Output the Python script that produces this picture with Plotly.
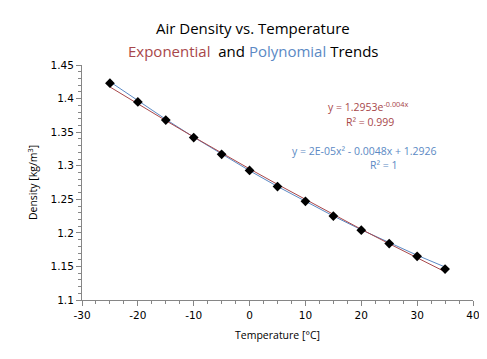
import plotly.graph_objects as go

temps = [-25, -20, -15, -10, -5, 0, 5, 10, 15, 20, 25, 30, 35]
density = [1.423, 1.395, 1.368, 1.342, 1.317, 1.293, 1.269, 1.247, 1.225, 1.204, 1.184, 1.165, 1.146]
exp_trend = [1.4173, 1.3920, 1.3672, 1.3428, 1.3188, 1.2953, 1.2722, 1.2495, 1.2272, 1.2053, 1.1838, 1.1627, 1.1420]
poly_trend = [1.4251, 1.3966, 1.3691, 1.3426, 1.3171, 1.2926, 1.2691, 1.2466, 1.2251, 1.2046, 1.1851, 1.1666, 1.1491]
x_ticks = [-30, -20, -10, 0, 10, 20, 30, 40]
x_ticklabels = ["-30", "-20", "-10", "0", "10", "20", "30", "40"]

RED = "#a8474a"
BLUE = "#5b89c4"
AXIS = "#868686"
FONT = "Open Sans"

fig = go.Figure()
fig.add_trace(go.Scatter(x=temps, y=poly_trend, mode="lines",
                         line=dict(color=BLUE, width=1), hoverinfo="skip"))
fig.add_trace(go.Scatter(x=temps, y=exp_trend, mode="lines",
                         line=dict(color=RED, width=1), hoverinfo="skip"))
fig.add_trace(go.Scatter(x=temps, y=density, mode="markers",
                         marker=dict(symbol="diamond", size=7.5, color="black")))

fig.update_layout(
    width=487, height=359,
    margin=dict(l=74, r=22, t=57, b=67),
    paper_bgcolor="white", plot_bgcolor="white",
    showlegend=False,
    font=dict(family=FONT, color="black", size=11),
)
fig.update_xaxes(
    range=[-30, 40], tickvals=x_ticks, ticktext=x_ticklabels,
    showgrid=False, zeroline=False,
    showline=True, linecolor=AXIS, linewidth=1,
    ticks="outside", ticklen=5, tickcolor=AXIS,
    minor=dict(dtick=2.5, tick0=-30, ticks="outside", ticklen=3, tickcolor=AXIS, showgrid=False),
    tickfont=dict(family="DejaVu Sans", size=10.5),
    title=dict(text="Temperature [°C]", font=dict(family=FONT, size=10.5), standoff=12),
)
fig.update_yaxes(
    range=[1.1, 1.45], dtick=0.05, tick0=1.1, showgrid=False, zeroline=False,
    showline=True, linecolor=AXIS, linewidth=1,
    ticks="outside", ticklen=5, tickcolor=AXIS,
    minor=dict(dtick=0.01, ticks="outside", ticklen=3, tickcolor=AXIS, showgrid=False),
    tickfont=dict(family="DejaVu Sans", size=10.5),
    tickformat="~g",
    title=dict(text="Density [kg/m<sup>3</sup>]", font=dict(family=FONT, size=10.5), standoff=10),
)


# convert pixel positions to paper coords
def py(ypx):
    return (292 - ypx) / (292 - 57)


def px(xpx):
    return (xpx - 74) / (465 - 74)


fig.add_annotation(text="Air Density vs. Temperature", xref="paper", yref="paper",
                   x=px(245), y=py(20), showarrow=False, xanchor="center", yanchor="middle",
                   font=dict(size=15, family=FONT))
fig.add_annotation(text=f"<span style='color:{RED}'>Exponential</span>  and "
                        f"<span style='color:{BLUE}'>Polynomial</span> Trends",
                   xref="paper", yref="paper",
                   x=px(245), y=py(43), showarrow=False, xanchor="center", yanchor="middle",
                   font=dict(size=15, family=FONT))
fig.add_annotation(text="y = 1.2953e<sup>-0.004x</sup>", xref="paper", yref="paper",
                   x=px(360), y=py(98), showarrow=False, xanchor="center", yanchor="middle",
                   font=dict(size=10.5, family=FONT, color=RED))
fig.add_annotation(text="R² = 0.999", xref="paper", yref="paper",
                   x=px(362), y=py(114), showarrow=False, xanchor="center", yanchor="middle",
                   font=dict(size=10.5, family=FONT, color=RED))
fig.add_annotation(text="y = 2E-05x² - 0.0048x + 1.2926", xref="paper", yref="paper",
                   x=px(356), y=py(143), showarrow=False, xanchor="center", yanchor="middle",
                   font=dict(size=10.5, family=FONT, color=BLUE))
fig.add_annotation(text="R² = 1", xref="paper", yref="paper",
                   x=px(376), y=py(157), showarrow=False, xanchor="center", yanchor="middle",
                   font=dict(size=10.5, family=FONT, color=BLUE))

fig.write_html("out.html")
